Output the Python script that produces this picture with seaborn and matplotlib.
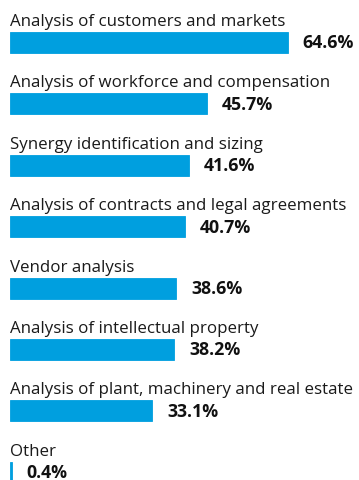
import matplotlib
matplotlib.use("Agg")
import matplotlib.pyplot as plt
import seaborn as sns
import pandas as pd

categories = [
    "Analysis of customers and markets",
    "Analysis of workforce and compensation",
    "Synergy identification and sizing",
    "Analysis of contracts and legal agreements",
    "Vendor analysis",
    "Analysis of intellectual property",
    "Analysis of plant, machinery and real estate",
    "Other",
]
values = [64.6, 45.7, 41.6, 40.7, 38.6, 38.2, 33.1, 0.4]
value_labels = ["64.6%", "45.7%", "41.6%", "40.7%", "38.6%", "38.2%", "33.1%", "0.4%"]

sns.set_theme(style="white")
plt.rcParams["font.family"] = ["Open Sans", "DejaVu Sans"]

W, H = 359, 481
fig = plt.figure(figsize=(W / 100, H / 100), dpi=100)
ax = fig.add_axes([10 / W, 0, 344 / W, 1])

bar_blue = "#009FDF"
df = pd.DataFrame({"cat": categories, "val": values})
sns.barplot(data=df, x="val", y="cat", orient="h", color=bar_blue,
            saturation=1, width=0.34, edgecolor=bar_blue, linewidth=0.6,
            ax=ax)

pitch = 61.4
ax.set_xlim(0, 344 / 4.3)
ax.set_ylim((H - 43.5) / pitch, -43.5 / pitch)
ax.axis("off")

px = 1 / pitch
for i, (c, v, lab) in enumerate(zip(categories, values, value_labels)):
    ax.text(0, i - 17.5 * px, c, ha="left", va="baseline",
            fontsize=12.2, color="#1a1a1a")
    ax.text(v + 15 / 4.3, i + 5 * px, lab, ha="left", va="baseline",
            fontsize=12.8, fontweight="bold", color="#111111")

fig.savefig("out.png", dpi=100)
